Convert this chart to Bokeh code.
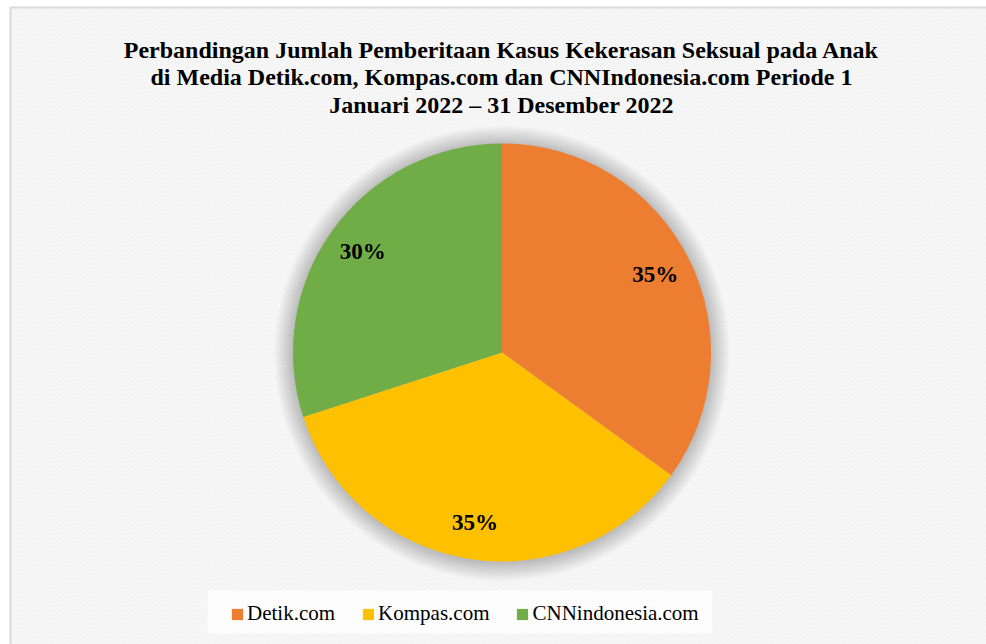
import math
from bokeh.plotting import figure
from bokeh.models import Range1d, Label, Legend, LegendItem, ColumnDataSource
from bokeh.core.properties import value
from bokeh.embed import file_html
from bokeh.resources import INLINE

# ---- data ----
title_lines = [
    "Perbandingan Jumlah Pemberitaan Kasus Kekerasan Seksual pada Anak",
    "di Media Detik.com, Kompas.com dan CNNIndonesia.com Periode 1",
    "Januari 2022 \u2013 31 Desember 2022",
]
categories = ["Detik.com", "Kompas.com", "CNNindonesia.com"]
shares = [35, 35, 30]
colors = ["#ED7D31", "#FFC000", "#70AD47"]

W, H = 986, 644
p = figure(width=W, height=H, x_range=Range1d(0, W), y_range=Range1d(0, H),
           x_axis_type=None, y_axis_type=None, toolbar_location=None,
           output_backend="svg", min_border=0)
p.grid.visible = False
p.outline_line_color = None
p.background_fill_color = "white"
p.border_fill_color = "white"

# chart area with hatched background
p.quad(left=[10], right=[1000], bottom=[-10], top=[H - 7], fill_color="white",
       hatch_pattern="\\", hatch_color="#eeeeee", hatch_scale=4.5, hatch_weight=1.2,
       line_color="#d9d9d9", line_width=2)

# pie geometry
cx, cy, R = 501.5, H - 352, 209
total = float(sum(shares))
starts, ends, mids = [], [], []
acc = 0.0
for v in shares:
    a0 = math.pi / 2 - 2 * math.pi * acc / total
    acc += v
    a1 = math.pi / 2 - 2 * math.pi * acc / total
    starts.append(a0)
    ends.append(a1)
    mids.append((a0 + a1) / 2)

# soft shadow
for k in range(1, 20):
    p.circle(x=[cx], y=[cy - 1], radius=R + k, fill_color="black", fill_alpha=0.011,
             line_color=None)

src = ColumnDataSource(dict(cat=categories, val=shares, start=starts, end=ends,
                            color=colors))
wr = p.wedge(x=cx, y=cy, radius=R, start_angle="start", end_angle="end",
             direction="clock", fill_color="color", line_color=None, source=src)

# percent labels
lr = 172
lab = ColumnDataSource(dict(
    x=[cx + lr * math.cos(m) for m in mids],
    y=[cy + lr * math.sin(m) for m in mids],
    t=["%d%%" % round(100 * v / total) for v in shares]))
p.text(x="x", y="y", text="t", source=lab, text_align="center",
       text_baseline="middle", text_font=value("Liberation Serif"),
       text_font_style="bold", text_font_size="23px", text_color="black")

# title
for i, line in enumerate(title_lines):
    p.add_layout(Label(x=501, y=H - 49 - 27.5 * i, text=line, text_align="center",
                       text_baseline="alphabetic", text_font="Liberation Serif",
                       text_font_style="bold", text_font_size="24px",
                       text_color="black"))

# legend background
p.quad(left=[207], right=[712], bottom=[H - 633], top=[H - 590],
       fill_color="white", fill_alpha=0.8, line_color=None)

items = [LegendItem(label=c, renderers=[wr], index=i) for i, c in enumerate(categories)]
legend = Legend(items=items, orientation="horizontal", location=(230, 18),
                glyph_width=14, glyph_height=14, label_standoff=3, spacing=26,
                padding=11, margin=0, background_fill_alpha=0,
                border_line_color=None, label_text_font="Liberation Serif",
                label_text_font_size="21px", label_text_color="black")
p.add_layout(legend)

open("out.html", "w").write(file_html(p, INLINE))
